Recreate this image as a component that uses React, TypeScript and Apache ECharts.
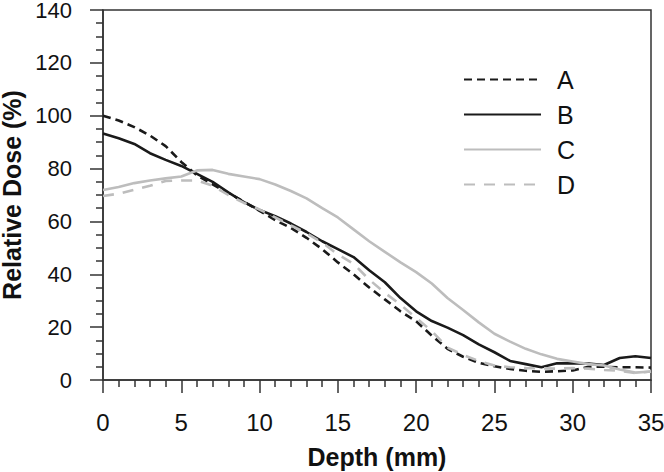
import React, { useEffect, useRef } from "react";
import * as echarts from "echarts";

const depth = [0,1,2,3,4,5,6,7,8,9,10,11,12,13,14,15,16,17,18,19,20,21,22,23,24,25,26,27,28,29,30,31,32,33,34,35];
const seriesA = [100,98.2,95.7,92.5,88.5,82.5,77.5,74,70.8,67.5,64,60.5,57.5,53.8,49.5,44.5,40,35,30.5,26,22.2,16.8,11.8,8.8,6.5,5.2,4.2,3.5,3.1,3.3,3.6,5,5,4.8,4.8,4.7];
const seriesB = [93.3,91.5,89.3,85.8,83.3,81,78,75,71,67.3,64.3,62,59.2,56,52.5,49.5,46.5,41.5,37,31,26,22.3,19.8,17,13.5,10.5,7.2,6,4.8,6.3,6.4,6.2,5.7,8.3,9,8.3];
const seriesC = [71.9,73,74.5,75.5,76.3,77,79.3,79.5,78,77,76,74,71.5,68.7,65,61.5,57,52.5,48.5,44.5,40.8,36.5,31,26.5,21.8,17.5,14.5,11.8,9.7,8,7,6,5.5,4,2.8,3.2];
const seriesD = [69.6,70.5,72,73.5,75.3,75.5,75.5,73.5,70,67,64.5,61.5,58.5,55.5,52,47.5,44,38,33,28.5,23.5,18.5,12.3,9.5,7.2,5.5,4.8,4.5,4.4,4.3,4.5,4.3,3.8,3.5,2.6,3.2];
const seriesNames = ["A", "B", "C", "D"];
const xTicks = { min: 0, max: 35, interval: 5 };
const yTicks = { min: 0, max: 140, interval: 20 };

const pair = (v: number[]) => v.map((y, i) => [depth[i], y]);

export default function App() {
  const ref = useRef<HTMLDivElement>(null);
  useEffect(() => {
    if (!ref.current) return;
    const chart = echarts.init(ref.current, undefined, { renderer: "svg" });
    const axisColor = "#333333";
    const font = "Liberation Sans, Arial, sans-serif";
    const mk = (name: string, data: number[], color: string, type: any) => ({
      name,
      type: "line",
      data: pair(data),
      symbol: "none",
      smooth: false,
      lineStyle: { color, width: 2.6, type },
      itemStyle: { color },
    });
    chart.setOption({
      animation: false,
      textStyle: { fontFamily: font },
      grid: {
        left: 103,
        right: 13,
        top: 10,
        bottom: 92,
        containLabel: false,
        outerBoundsMode: "none",
        show: true,
        borderColor: axisColor,
        borderWidth: 1.5,
        backgroundColor: "transparent",
      },
      legend: {
        orient: "vertical",
        left: 463,
        top: 67,
        padding: 0,
        itemWidth: 77,
        itemHeight: 25,
        itemGap: 10,
        data: seriesNames,
        itemStyle: { opacity: 0 },
        textStyle: { fontSize: 25, color: "#111", fontFamily: font, padding: [0, 0, 0, 11] },
      },
      xAxis: {
        type: "value",
        min: xTicks.min,
        max: xTicks.max,
        interval: xTicks.interval,
        name: "Depth (mm)",
        nameLocation: "middle",
        nameGap: 64,
        nameTextStyle: { fontSize: 25, fontWeight: "bold", color: "#111", fontFamily: font, lineHeight: 25 },
        axisLine: { show: true, lineStyle: { color: axisColor, width: 1.5 } },
        axisTick: { show: true, inside: false, length: 13, lineStyle: { color: axisColor, width: 1.5 } },
        minorTick: { show: true, splitNumber: 5, length: 7, lineStyle: { color: axisColor, width: 1.5 } },
        axisLabel: { fontSize: 24, color: "#111", margin: 30, fontFamily: font },
        splitLine: { show: false },
        minorSplitLine: { show: false },
      },
      yAxis: {
        type: "value",
        min: yTicks.min,
        max: yTicks.max,
        interval: yTicks.interval,
        name: "Relative Dose (%)",
        nameLocation: "middle",
        nameGap: 72,
        nameTextStyle: { fontSize: 25, fontWeight: "bold", color: "#111", fontFamily: font, lineHeight: 25 },
        axisLine: { show: true, lineStyle: { color: axisColor, width: 1.5 } },
        axisTick: { show: true, inside: false, length: 13, lineStyle: { color: axisColor, width: 1.5 } },
        minorTick: { show: true, splitNumber: 4, length: 7, lineStyle: { color: axisColor, width: 1.5 } },
        axisLabel: { fontSize: 22, color: "#111", margin: 31, fontFamily: font, lineHeight: 20 },
        splitLine: { show: false },
        minorSplitLine: { show: false },
      },
      series: [
        mk("A", seriesA, "#1a1a1a", [8, 5]),
        mk("B", seriesB, "#1a1a1a", "solid"),
        mk("C", seriesC, "#bdbdbd", "solid"),
        mk("D", seriesD, "#bdbdbd", [11, 9]),
      ],
    });
    return () => chart.dispose();
  }, []);
  return <div ref={ref} style={{ width: 664, height: 472, position: "absolute", left: 0, top: 0 }} />;
}
